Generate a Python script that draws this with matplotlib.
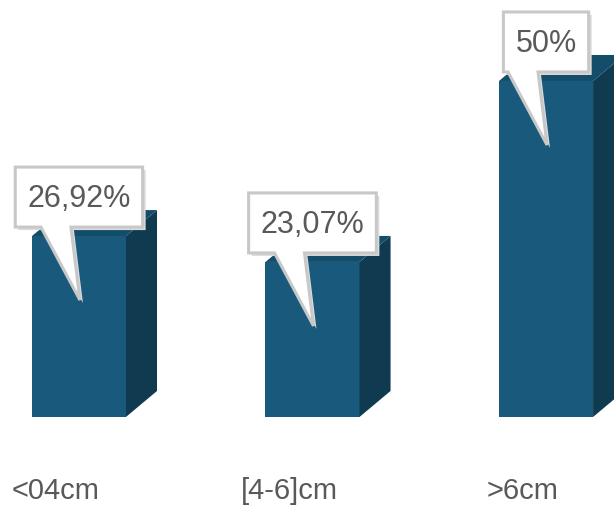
import numpy as np
import matplotlib.pyplot as plt
from matplotlib.patches import Polygon
from matplotlib.transforms import IdentityTransform

# data
categories = ["<04cm", "[4-6]cm", ">6cm"]
values = [26.92, 23.07, 50.0]
value_labels = ["26,92%", "23,07%", "50%"]

plt.rcParams["font.family"] = ["Liberation Sans", "DejaVu Sans"]

front = "#195a7c"
side = "#103a50"
top = "#144d6a"
txt = "#595959"

fig = plt.figure(figsize=(6.14, 5.06), dpi=100)
ax = fig.add_axes([0, 0, 1, 1])
ax.set_xlim(-0.338, 2.291)
ax.set_ylim(-13.1, 62.2)
ax.axis("off")

x = np.arange(len(categories))
w = 0.4026
dx, dy = 0.133, 3.87

ax.bar(x, values, width=w, color=front, zorder=2)
for xi, v in zip(x, values):
    xr = xi + w / 2
    xl = xi - w / 2
    ax.add_patch(Polygon([(xr, 0), (xr + dx, dy), (xr + dx, v + dy), (xr, v)],
                         closed=True, fc=side, ec="none", zorder=2))
    ax.add_patch(Polygon([(xl, v), (xl + dx, v + dy), (xr + dx, v + dy), (xr, v)],
                         closed=True, fc=top, ec="none", zorder=2))

# category labels
for xi, c in zip(x, categories):
    ax.text(xi - 0.1, -10.9, c, ha="center", va="center", fontsize=21, color=txt)

# callouts
fig.canvas.draw()
rend = fig.canvas.get_renderer()
for xi, v, lab in zip(x, values, value_labels):
    ax0, ay0 = ax.transData.transform((xi, v))
    t = ax.text(xi, v, lab, fontsize=22, color=txt, ha="center", va="center", zorder=6)
    bb = t.get_window_extent(rend)
    bw = bb.width + 24
    bh = 60
    bl = ax0 - bw / 2
    bb0 = ay0 + 9
    tip = (ax0 + 1, ay0 - 64)
    pts = [(bl, bb0), (ax0 - 38, bb0), tip, (ax0 - 8, bb0), (bl + bw, bb0),
           (bl + bw, bb0 + bh), (bl, bb0 + bh)]
    shadow = [(px + 3, py - 3) for px, py in pts]
    ax.add_patch(Polygon(shadow, closed=True, fc="#dcdcdc", ec="none",
                         transform=IdentityTransform(), zorder=4))
    ax.add_patch(Polygon(pts, closed=True, fc="white", ec="#c8c8c8", lw=2.2,
                         joinstyle="miter", transform=IdentityTransform(), zorder=5))
    t.set_transform(IdentityTransform())
    t.set_position((ax0, bb0 + bh / 2 - 1))

fig.savefig("out.png", dpi=100)
